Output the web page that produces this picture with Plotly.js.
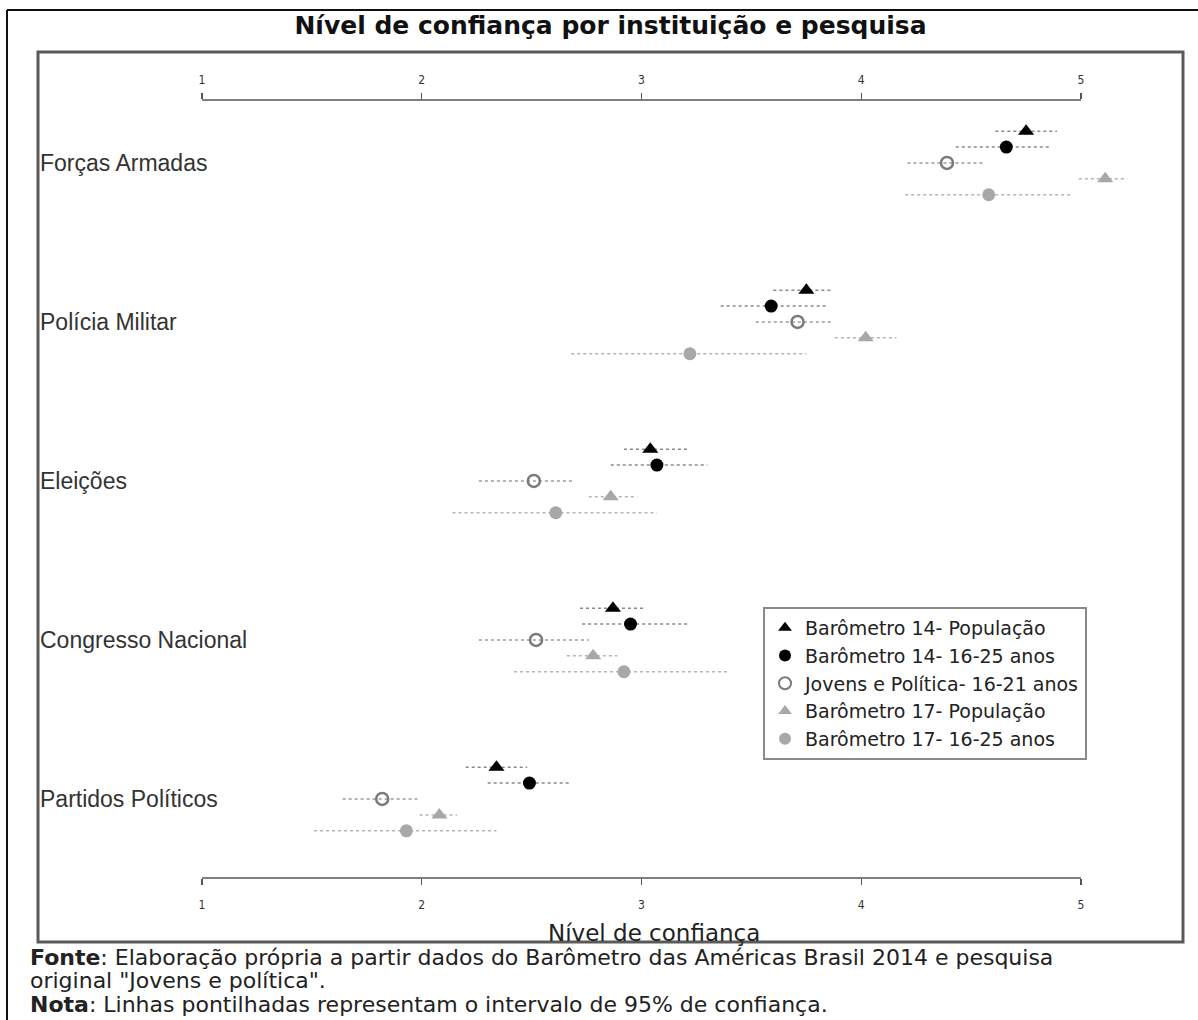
<!DOCTYPE html>
<html>
<head>
<meta charset="utf-8">
<script src="https://cdn.plot.ly/plotly-3.0.1.min.js"></script>
<style>html,body{margin:0;padding:0;background:#fff;}#chart{width:1198px;height:1020px;}</style>
</head>
<body>
<div id="chart"></div>
<script>
// Institutions (top to bottom) and their axis positions
const institutions = ["Forças Armadas", "Polícia Militar", "Eleições", "Congresso Nacional", "Partidos Políticos"];
const instPos = [5, 4, 3, 2, 1];

// Series names
const seriesNames = ["Barômetro 14- População", "Barômetro 14- 16-25 anos", "Jovens e Política- 16-21 anos", "Barômetro 17- População", "Barômetro 17- 16-25 anos"];

// Mean confidence per institution (order as institutions)
const b14Pop   = [4.75, 3.75, 3.04, 2.87, 2.34];
const b14Jov   = [4.66, 3.59, 3.07, 2.95, 2.49];
const jovPol   = [4.39, 3.71, 2.51, 2.52, 1.82];
const b17Pop   = [5.11, 4.02, 2.86, 2.78, 2.08];
const b17Jov   = [4.58, 3.22, 2.61, 2.92, 1.93];

// 95% confidence interval bounds
const b14PopLo = [4.61, 3.60, 2.92, 2.72, 2.20];
const b14PopHi = [4.89, 3.87, 3.21, 3.02, 2.48];
const b14JovLo = [4.43, 3.36, 2.86, 2.73, 2.30];
const b14JovHi = [4.86, 3.84, 3.30, 3.21, 2.68];
const jovPolLo = [4.21, 3.52, 2.26, 2.26, 1.64];
const jovPolHi = [4.56, 3.87, 2.69, 2.76, 1.98];
const b17PopLo = [4.99, 3.88, 2.76, 2.66, 1.99];
const b17PopHi = [5.21, 4.16, 2.98, 2.89, 2.16];
const b17JovLo = [4.20, 2.68, 2.14, 2.42, 1.51];
const b17JovHi = [4.95, 3.75, 3.07, 3.39, 2.34];

const xTicks = [1, 2, 3, 4, 5];

const seriesVals = [b14Pop, b14Jov, jovPol, b17Pop, b17Jov];
const seriesLo = [b14PopLo, b14JovLo, jovPolLo, b17PopLo, b17JovLo];
const seriesHi = [b14PopHi, b14JovHi, jovPolHi, b17PopHi, b17JovHi];
const offsets = [0.2, 0.1, 0, -0.1, -0.2];

const markerStyles = [
  {symbol: "triangle-up", color: "#000000", size: 14, line: {width: 0}},
  {symbol: "circle", color: "#000000", size: 13, line: {width: 0}},
  {symbol: "circle-open", color: "#7a7a7a", size: 12, line: {width: 2.5}},
  {symbol: "triangle-up", color: "#a8a8a8", size: 14, line: {width: 0}},
  {symbol: "circle", color: "#a8a8a8", size: 13, line: {width: 0}}
];
const ciColors = ["#8a8a8a", "#8a8a8a", "#9a9a9a", "#b5b5b5", "#b5b5b5"];

const traces = [];
// CI dotted lines
seriesVals.forEach((vals, s) => {
  const xs = [], ys = [];
  vals.forEach((v, i) => {
    const y = instPos[i] + offsets[s];
    xs.push(seriesLo[s][i], seriesHi[s][i], null);
    ys.push(y, y, null);
  });
  traces.push({
    type: "scatter", mode: "lines", x: xs, y: ys,
    line: {color: ciColors[s], width: 1.5, dash: "dot"},
    showlegend: false, hoverinfo: "skip"
  });
});
// point estimates
seriesVals.forEach((vals, s) => {
  traces.push({
    type: "scatter", mode: "markers", name: seriesNames[s],
    x: vals, y: vals.map((v, i) => instPos[i] + offsets[s]),
    marker: markerStyles[s]
  });
});
// invisible trace to drive top axis
traces.push({type: "scatter", mode: "markers", x: xTicks, y: xTicks.map(() => 3), xaxis: "x2",
  marker: {opacity: 0}, showlegend: false, hoverinfo: "skip"});

// pixel -> paper helpers (plot area: x 38..1183, y 100..878)
const px = p => (p - 38) / 1145;
const py = p => (878 - p) / 778;

const axisCommon = {
  range: [0.2537, 5.464], tickvals: xTicks, ticktext: xTicks.map(String),
  showgrid: false, zeroline: false, showline: false,
  ticks: "outside", ticklen: 6, tickwidth: 1.2, tickcolor: "#555",
  tickfont: {family: "DejaVu Sans Condensed, DejaVu Sans", size: 12, color: "#333"}
};

const footFont = {family: "DejaVu Sans", size: 22, color: "#222"};

const annotations = institutions.map((name, i) => ({
  text: name, xref: "paper", yref: "y", x: px(38), y: instPos[i],
  xanchor: "left", yanchor: "middle", showarrow: false,
  font: {family: "Liberation Sans, Arial", size: 23, color: "#333"}
}));
annotations.push(
  {text: "Nível de confiança", xref: "paper", yref: "paper", x: px(654), y: py(933),
    xanchor: "center", yanchor: "middle", showarrow: false,
    font: {family: "DejaVu Sans", size: 23, color: "#222"}},
  {text: "<b>Fonte</b>: Elaboração própria a partir dados do Barômetro das Américas Brasil 2014 e pesquisa",
    xref: "paper", yref: "paper", x: px(28), y: py(957), xanchor: "left", yanchor: "middle", showarrow: false,
    font: footFont},
  {text: "original \"Jovens e política\".",
    xref: "paper", yref: "paper", x: px(28), y: py(980), xanchor: "left", yanchor: "middle", showarrow: false,
    font: footFont},
  {text: "<b>Nota</b>: Linhas pontilhadas representam o intervalo de 95% de confiança.",
    xref: "paper", yref: "paper", x: px(28), y: py(1004), xanchor: "left", yanchor: "middle", showarrow: false,
    font: footFont}
);

const layout = {
  width: 1198, height: 1020,
  margin: {l: 38, r: 15, t: 100, b: 142},
  paper_bgcolor: "#ffffff", plot_bgcolor: "#ffffff",
  title: {text: "Nível de confiança por instituição e pesquisa",
    font: {family: "DejaVu Sans", size: 25, color: "#111", weight: "bold"},
    x: 0.5, xref: "paper", xanchor: "center", y: 1 - 25 / 1020, yref: "container", yanchor: "middle"},
  xaxis: Object.assign({}, axisCommon, {side: "bottom", ticklabelstandoff: 10}),
  xaxis2: Object.assign({}, axisCommon, {side: "top", overlaying: "x", matches: "x", ticklabelstandoff: 4}),
  yaxis: {range: [0.503, 5.396], tickvals: instPos, showticklabels: false, ticks: "",
    showgrid: false, zeroline: false, showline: false},
  showlegend: true,
  legend: {x: px(763), y: py(607), xanchor: "left", yanchor: "top",
    bgcolor: "#ffffff", bordercolor: "#8a8a8a", borderwidth: 2,
    font: {family: "DejaVu Sans", size: 19, color: "#222"},
    itemsizing: "constant", tracegroupgap: 0},
  shapes: [
    // inner frame
    {type: "rect", xref: "paper", yref: "paper", x0: 0, x1: 1, y0: py(942), y1: py(52),
      line: {color: "#5a5a5a", width: 3}, fillcolor: "rgba(0,0,0,0)"},
    // outer image border (top and left)
    {type: "line", xref: "paper", yref: "paper", x0: px(7), x1: px(1198), y0: py(10), y1: py(10),
      line: {color: "#111", width: 2}},
    {type: "line", xref: "paper", yref: "paper", x0: px(7), x1: px(7), y0: py(10), y1: py(1020),
      line: {color: "#111", width: 2}},
    // axis lines spanning 1..5
    {type: "line", xref: "x", yref: "paper", x0: xTicks[0], x1: xTicks[xTicks.length - 1], y0: 1, y1: 1,
      line: {color: "#555", width: 1.5}},
    {type: "line", xref: "x", yref: "paper", x0: xTicks[0], x1: xTicks[xTicks.length - 1], y0: 0, y1: 0,
      line: {color: "#555", width: 1.5}}
  ],
  annotations: annotations
};

Plotly.newPlot("chart", traces, layout, {displayModeBar: false, staticPlot: true});
</script>
</body>
</html>
